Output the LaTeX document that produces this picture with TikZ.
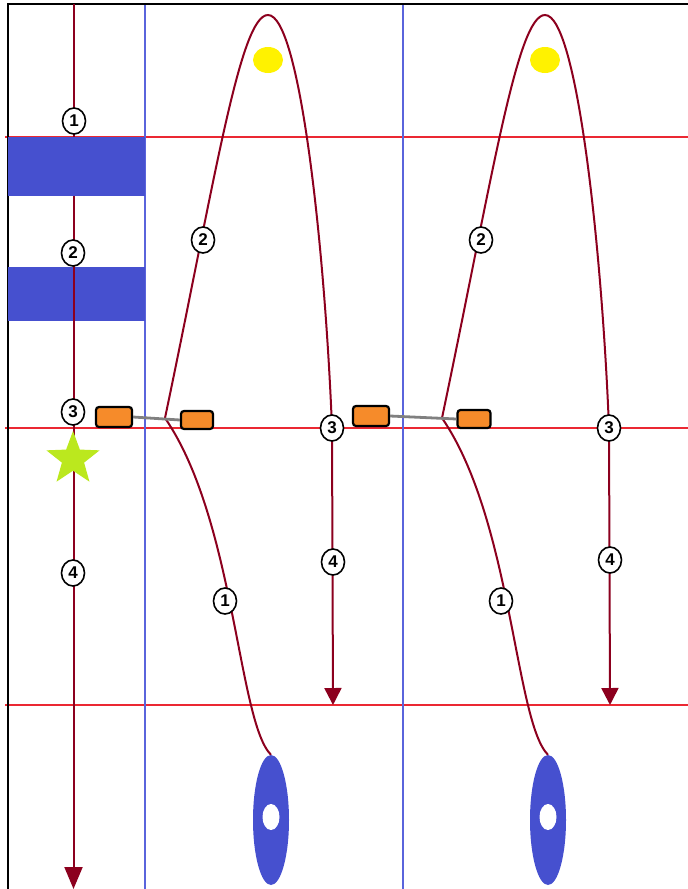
\documentclass[tikz,border=0pt]{standalone}
\usepackage{fontspec}
\setmainfont{Liberation Sans}
\usetikzlibrary{shapes.geometric,arrows.meta}
\definecolor{traj}{RGB}{140,0,30}
\definecolor{gridred}{RGB}{235,40,50}
\definecolor{gridblue}{RGB}{90,100,220}
\definecolor{blockblue}{RGB}{70,80,207}
\definecolor{boxorange}{RGB}{246,139,42}
\definecolor{starlime}{RGB}{187,232,30}
\definecolor{sunyellow}{RGB}{255,242,0}
\tikzset{
  numlbl/.style={ellipse,draw=black,line width=1.6pt,fill=white,inner sep=0pt,
    minimum width=23pt,minimum height=26pt,font=\fontsize{17}{17}\selectfont\bfseries},
  trajline/.style={draw=traj,line width=2pt},
  redline/.style={draw=gridred,line width=1.5pt},
  blueline/.style={draw=gridblue,line width=1.5pt},
  orangebox/.style={rectangle,rounded corners=3pt,draw=black,line width=2.2pt,fill=boxorange,
    minimum width=#1,minimum height=18pt,inner sep=0pt},
  orangebox/.default=34pt,
  bigarrow/.style={-{Triangle[length=22pt,width=18pt]}},
  midarrow/.style={-{Triangle[length=17pt,width=17pt]}},
}
\begin{document}
\begin{tikzpicture}[x=1pt,y=-1pt]
\useasboundingbox (0,0) rectangle (688,889);
% grid lines
\draw[redline] (5,137) -- (688,137);
\draw[redline] (5,428) -- (688,428);
\draw[redline] (5,705) -- (688,705);
\draw[blueline] (145,4) -- (145,889);
\draw[blueline] (403,4) -- (403,889);
% frame
\draw[black,line width=2.5pt] (8,889) -- (8,4) -- (688,4);
% left trajectory
\coordinate (Ltop) at (73.5,4);
\coordinate (Lbot) at (73.5,889);
\draw[trajline,bigarrow] (Ltop) -- (Lbot);
% blue blocks
\node[fill=blockblue,minimum width=137pt,minimum height=59pt,inner sep=0pt] (blockA) at (76.5,166.5) {};
\node[fill=blockblue,minimum width=137pt,minimum height=54pt,inner sep=0pt] (blockB) at (76.5,294) {};
\draw[trajline] (blockB.north -| Ltop) -- (blockB.south -| Ltop);
% star
\node[star,star points=5,star point ratio=2.4,fill=starlime,minimum size=56pt,inner sep=0pt] (star) at (73,459) {};
% left labels
\node[numlbl] (L1) at (74,121) {1};
\node[numlbl] (L2) at (73,253) {2};
\node[numlbl] (L3) at (73,412) {3};
\node[numlbl] (L4) at (73,573) {4};
% the two trajectory units
\foreach \dx/\nm in {0/a,277/b}{
  \begin{scope}[xshift=\dx pt]
    \node[ellipse,fill=sunyellow,minimum width=30pt,minimum height=26pt,inner sep=0pt] (sun\nm) at (268,60) {};
    \node[ellipse,fill=blockblue,minimum width=36pt,minimum height=130pt,inner sep=0pt] (pod\nm) at (271,820) {};
    \node[ellipse,fill=white,minimum width=17pt,minimum height=26pt,inner sep=0pt] (hole\nm) at (271,817) {};
    \coordinate (j\nm) at (165,418);
    \coordinate (peak\nm) at (268,15);
    \coordinate (c3\nm) at (332,428);
    \coordinate (tip\nm) at (333,705);
    \draw[trajline] (pod\nm.north) .. controls (238,722) and (235,520) .. (j\nm)
      .. controls (215,180) and (240,15) .. (peak\nm)
      .. controls (300,15) and (325,250) .. (c3\nm);
    \draw[trajline,midarrow] (c3\nm) -- (tip\nm);
  \end{scope}
}
% orange boxes with grey links
\node[orangebox=36pt,minimum height=20pt] (ob1) at (114,417) {};
\node[orangebox=32pt] (ob2) at (197,420) {};
\node[orangebox=36pt,minimum height=20pt] (ob3) at (371,416) {};
\node[orangebox=33pt] (ob4) at (474,419) {};
\draw[gray,line width=2.8pt] (ob1.east) -- (ob2.west);
\draw[gray,line width=2.8pt] (ob3.east) -- (ob4.west);
% trajectory labels
\node[numlbl] (a1) at (225,601) {1};
\node[numlbl] (a2) at (203,240) {2};
\node[numlbl] (a3) at (332,428) {3};
\node[numlbl] (a4) at (333,562) {4};
\node[numlbl] (b1) at (501,601) {1};
\node[numlbl] (b2) at (481,240) {2};
\node[numlbl] (b3) at (609,428) {3};
\node[numlbl] (b4) at (610,560) {4};
\end{tikzpicture}
\end{document}
